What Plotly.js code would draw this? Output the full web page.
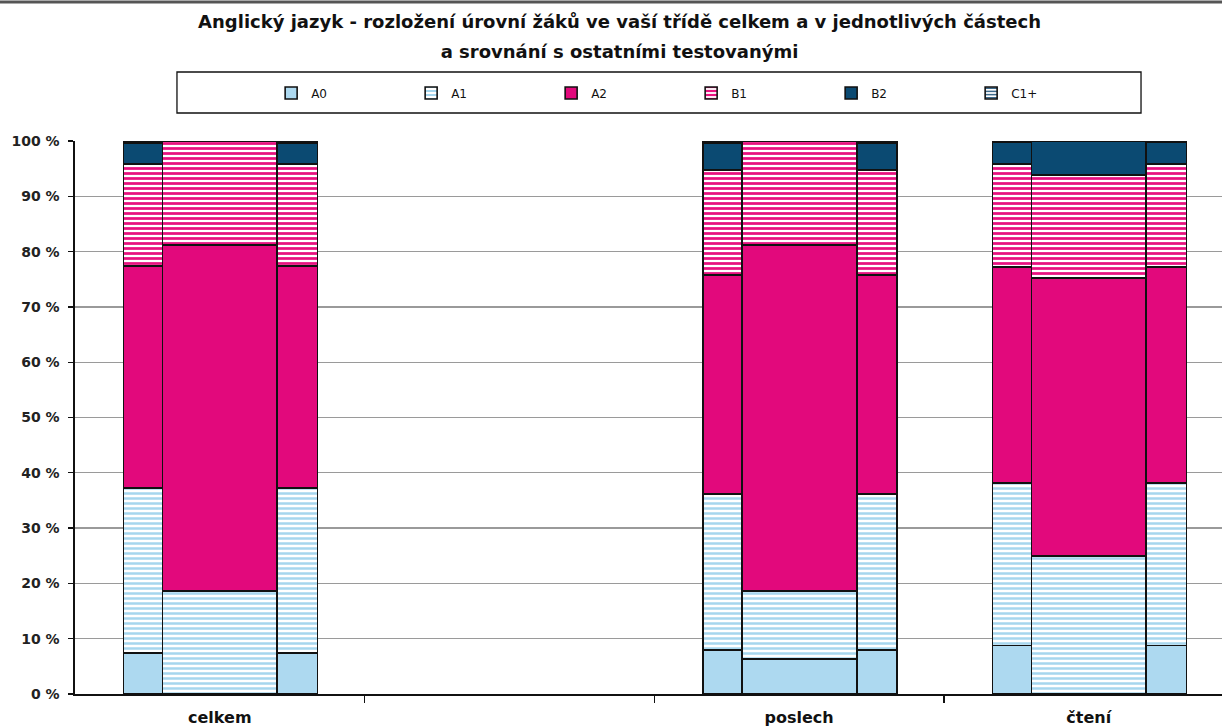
<!DOCTYPE html>
<html><head><meta charset="utf-8">
<script src="https://cdn.plot.ly/plotly-3.0.1.min.js"></script>
<style>html,body{margin:0;padding:0;background:#fff}#chart{width:1222px;height:728px}</style>
</head><body><div id="chart"></div>
<script>
const categories = ['celkem', '', 'poslech', 'čtení'];
const levels = ['A0', 'A1', 'A2', 'B1', 'B2', 'C1+'];

// Vaše třída (narrow side bars), % per category
const classA0 = [7.4, null, 8.0, 8.8];
const classA1 = [29.9, null, 28.2, 29.4];
const classA2 = [40.1, null, 39.6, 39.0];
const classB1 = [18.4, null, 19.0, 18.6];
const classB2 = [3.8, null, 4.8, 3.9];
const classC1 = [0.4, null, 0.4, 0.3];

// Ostatní testovaní (wide middle bars), % per category
const allA0 = [0, null, 6.3, 0];
const allA1 = [18.6, null, 12.3, 25.0];
const allA2 = [62.6, null, 62.6, 50.2];
const allB1 = [18.8, null, 18.8, 18.7];
const allB2 = [0, null, 0, 6.1];
const allC1 = [0, null, 0, 0];

const classSeries = [classA0, classA1, classA2, classB1, classB2, classC1];
const allSeries = [allA0, allA1, allA2, allB1, allB2, allC1];

const styles = [
  {color: '#add9f0'},
  {color: '#ffffff', pattern: {shape: '-', fgcolor: '#a6d6ee', bgcolor: '#ffffff', size: 5, solidity: 0.5, fillmode: 'replace'}},
  {color: '#e2097c'},
  {color: '#ffffff', pattern: {shape: '-', fgcolor: '#e8107f', bgcolor: '#ffffff', size: 5, solidity: 0.55, fillmode: 'replace'}},
  {color: '#0b4a72'},
  {color: '#ffffff', pattern: {shape: '-', fgcolor: '#3d6a8c', bgcolor: '#ffffff', size: 4, solidity: 0.5, fillmode: 'replace'}}
];

const LEFT = -0.265, RIGHT = 0.268;
const W_NARROW = 0.135, W_WIDE = 0.395, W_RIGHT = 0.138;

const traces = levels.map((lv, k) => {
  const xs = [], ys = [], ws = [];
  categories.forEach((c, i) => {
    const cv = classSeries[k][i], av = allSeries[k][i];
    if (cv === null) return;
    xs.push(i + LEFT, i, i + RIGHT);
    ys.push(cv, av, cv);
    ws.push(W_NARROW, W_WIDE, W_RIGHT);
  });
  const marker = Object.assign({line: {color: '#111111', width: 1.6}}, styles[k]);
  return {type: 'bar', name: lv, x: xs, y: ys, width: ws, marker: marker,
          hoverinfo: 'name+y'};
});

const font = 'DejaVu Sans, Liberation Sans, Arial, sans-serif';
const layout = {
  width: 1222, height: 728,
  margin: {l: 75, r: 0, t: 141, b: 34},
  paper_bgcolor: '#ffffff', plot_bgcolor: '#ffffff',
  barmode: 'stack',
  bargap: 0,
  title: {
    text: '<span style="font-size:18px">Anglický jazyk - rozložení úrovní žáků ve vaší třídě celkem a v jednotlivých částech<br>a srovnání s ostatními testovanými</span>',
    font: {family: font, size: 23, color: '#111', weight: 'bold'},
    x: 0.507, xanchor: 'center', y: 0.962, yanchor: 'top', yref: 'container'
  },
  showlegend: true,
  legend: {
    orientation: 'h', x: 0.171, xanchor: 'left', y: 1.0868, yanchor: 'middle',
    font: {family: font, size: 12, color: '#111'},
    entrywidth: 95, entrywidthmode: 'pixels',
    bgcolor: 'rgba(0,0,0,0)', borderwidth: 0, traceorder: 'normal'
  },
  xaxis: {
    type: 'linear', range: [-0.5, 3.46], fixedrange: true,
    tickmode: 'array', tickvals: [0, 1, 2, 3], ticktext: categories, ticks: '',
    ticklabelstandoff: 8,
    tickfont: {family: font, size: 16, color: '#111', weight: 'bold'},
    minor: {tickmode: 'array', tickvals: [0.5, 1.5, 2.5], ticks: 'outside', ticklen: 7,
            tickcolor: '#111', tickwidth: 1.3, showgrid: false},
    showgrid: false, zeroline: false,
    showline: true, linecolor: '#111', linewidth: 1.6
  },
  yaxis: {
    range: [0, 100], dtick: 10, tick0: 0, ticksuffix: ' %',
    ticks: 'outside', ticklen: 5, tickcolor: '#111', tickwidth: 1.3, ticklabelstandoff: 6,
    tickfont: {family: font, size: 14, color: '#222', weight: 'bold'},
    showgrid: true, gridcolor: '#9a9a9a', gridwidth: 1.3, zeroline: false,
    showline: true, linecolor: '#111', linewidth: 1.6
  },
  shapes: [
    {type: 'rect', xref: 'paper', yref: 'paper', x0: 0.0889, x1: 0.9294, y0: 1.0506, y1: 1.1248,
     line: {color: '#111', width: 1.3}, fillcolor: 'rgba(0,0,0,0)'},
    {type: 'line', xref: 'paper', yref: 'paper', x0: -0.07, x1: 1, y0: 1.2514, y1: 1.2514,
     line: {color: '#555', width: 3}}
  ]
};

Plotly.newPlot('chart', traces, layout, {displayModeBar: false, staticPlot: true});
</script>
</body></html>
